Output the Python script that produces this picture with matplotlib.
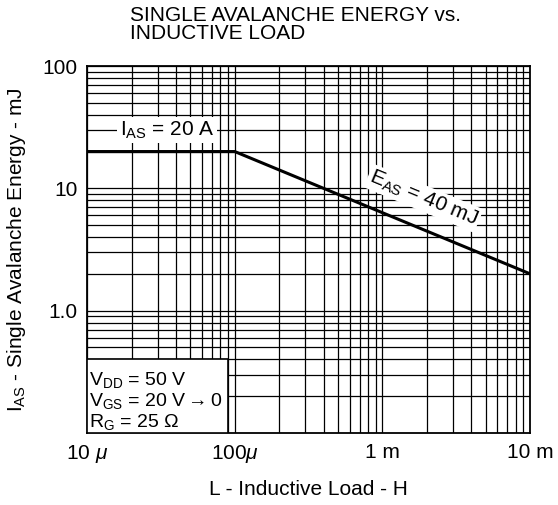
import matplotlib
matplotlib.use('Agg')
import matplotlib.pyplot as plt
from matplotlib.patches import Rectangle
from matplotlib.ticker import LogLocator, NullFormatter

plt.rcParams['font.family'] = ['Liberation Sans', 'DejaVu Sans']
plt.rcParams['mathtext.fontset'] = 'custom'
plt.rcParams['mathtext.rm'] = 'Liberation Sans'
plt.rcParams['mathtext.it'] = 'Liberation Sans:italic'

# curve: avalanche current vs inductance
inductance = [10e-6, 100e-6, 10e-3]
current = [20, 20, 2]

x_ticks = [1e-5, 1e-4, 1e-3, 1e-2]
x_labels = [r'10 $\mu$', r'100$\mu$', '1 m', '10 m']
y_ticks = [1, 10, 100]
y_labels = ['1.0', '10', '100']

fs = 15

fig = plt.figure(figsize=(5.58, 5.05), dpi=100)
ax = fig.add_axes([0.156, 0.1426, 0.794, 0.7266])

ax.set_xscale('log')
ax.set_yscale('log')
ax.set_xlim(1e-5, 1e-2)
ax.set_ylim(0.1, 100)

ax.xaxis.set_minor_locator(LogLocator(base=10, subs=range(2, 10)))
ax.yaxis.set_minor_locator(LogLocator(base=10, subs=range(2, 10)))
ax.xaxis.set_minor_formatter(NullFormatter())
ax.yaxis.set_minor_formatter(NullFormatter())
ax.set_xticks(x_ticks, x_labels)
ax.set_yticks(y_ticks, y_labels)
ax.tick_params(which='both', length=0, labelsize=fs, pad=7)
ax.grid(which='both', color='black', lw=0.9)
for s in ax.spines.values():
    s.set_linewidth(1.3)

ax.plot(inductance, current, color='black', lw=2.2, zorder=4)

ax.text(3.5e-5, 30, r'I$_{\mathregular{AS}}$ = 20 A', fontsize=fs, ha='center', va='center',
        bbox=dict(facecolor='white', edgecolor='none', pad=2), zorder=5)
ax.text(1.9e-3, 8.3, r'E$_{\mathregular{AS}}$ = 40 mJ', fontsize=fs, ha='center', va='center',
        rotation=-22.5, rotation_mode='anchor',
        bbox=dict(facecolor='white', edgecolor='none', pad=1.5), zorder=5)

ax.add_patch(Rectangle((1e-5, 0.1), 8e-5, 0.3, facecolor='white', edgecolor='black',
                       lw=1.2, zorder=3))
ax.text(1.03e-5, 0.325, r'V$_{\mathregular{DD}}$ = 50 V' + '\n' +
        r'V$_{\mathregular{GS}}$ = 20 V$\rightarrow$0' + '\n' + r'R$_{\mathregular{G}}$ = 25 Ω',
        fontsize=14, ha='left', va='top', linespacing=1.05, zorder=5)

ax.set_xlabel('L - Inductive Load - H', fontsize=fs, labelpad=11)
ax.set_ylabel(r'I$_{\mathregular{AS}}$ - Single Avalanche Energy - mJ', fontsize=fs, labelpad=10)

fig.text(0.233, 0.988, 'SINGLE AVALANCHE ENERGY vs.\nINDUCTIVE LOAD', fontsize=fs,
         ha='left', va='top', linespacing=0.9)

fig.savefig('out.png', dpi=100)
